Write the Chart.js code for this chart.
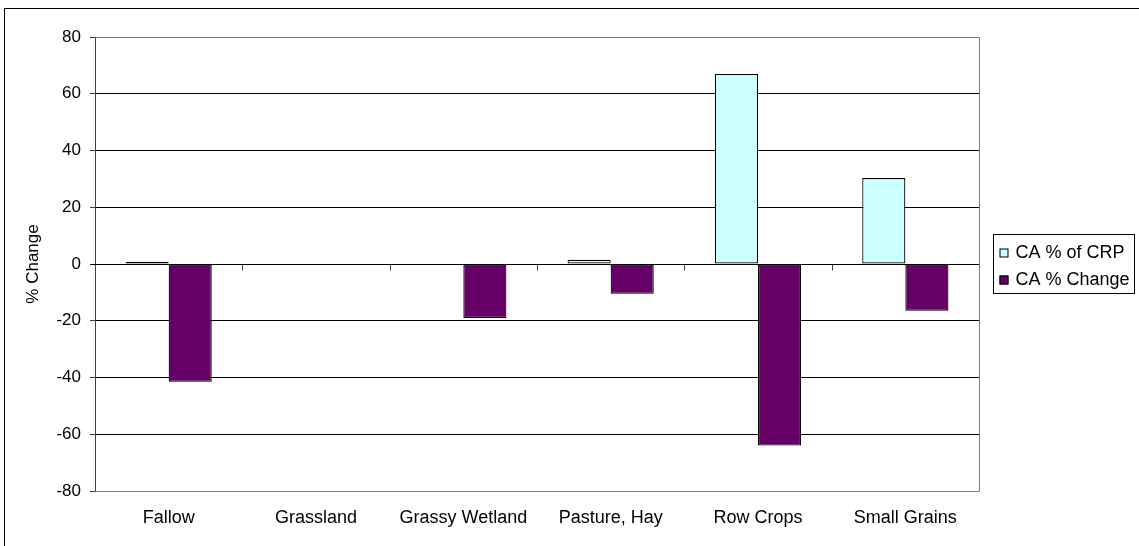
<!DOCTYPE html>
<html>
<head>
<meta charset="utf-8">
<script src="https://cdn.jsdelivr.net/npm/chart.js@4.4.1/dist/chart.umd.min.js"></script>
<style>
  html, body { margin: 0; padding: 0; background: #fff; }
  #wrap { width: 1139px; height: 546px; position: relative; }
</style>
</head>
<body>
<div id="wrap"><canvas id="chart" width="1139" height="546"></canvas></div>
<script>
// data
const categories = ["Fallow", "Grassland", "Grassy Wetland", "Pasture, Hay", "Row Crops", "Small Grains"];
const crpShare = [0.8, 0, 0, 1.5, 67, 30.3];        // CA % of CRP
const pctChange = [-41.5, 0, -19, -10.5, -64, -16.5]; // CA % Change
const seriesNames = ["CA % of CRP", "CA % Change"];
const yTicks = [-80, -60, -40, -20, 0, 20, 40, 60, 80];

const FONT = "'Liberation Sans', Arial, sans-serif";

// outer border, plot frame, zero line, category tick marks and boxed legend
const decorPlugin = {
  id: "decor",
  beforeDraw(chart) {
    const ctx = chart.ctx;
    ctx.save();
    ctx.fillStyle = "#fff";
    ctx.fillRect(0, 0, chart.width, chart.height);
    ctx.strokeStyle = "#000";
    ctx.lineWidth = 1;
    ctx.strokeRect(4.5, 8.5, chart.width, chart.height);
    ctx.restore();
  },
  afterDatasetsDraw(chart) {
    const ctx = chart.ctx;
    const a = chart.chartArea;
    const x = chart.scales.x, y = chart.scales.y;
    const y0 = Math.round(y.getPixelForValue(0)) + 0.5;
    ctx.save();
    // frame
    ctx.strokeStyle = "#808080";
    ctx.lineWidth = 1;
    ctx.beginPath();
    ctx.moveTo(Math.round(a.left) + 0.5, Math.round(a.top) + 0.5);
    ctx.lineTo(Math.round(a.right) + 0.5, Math.round(a.top) + 0.5);
    ctx.lineTo(Math.round(a.right) + 0.5, Math.round(a.bottom) + 0.5);
    ctx.lineTo(Math.round(a.left) + 0.5, Math.round(a.bottom) + 0.5);
    ctx.stroke();
    ctx.strokeStyle = "#404040";
    ctx.beginPath();
    ctx.moveTo(Math.round(a.left) + 0.5, Math.round(a.top) + 0.5);
    ctx.lineTo(Math.round(a.left) + 0.5, Math.round(a.bottom) + 0.5);
    ctx.stroke();
    // category boundary ticks on the zero line
    ctx.beginPath();
    for (let i = 0; i < categories.length - 1; i++) {
      const bx = Math.round((x.getPixelForValue(i) + x.getPixelForValue(i + 1)) / 2) + 0.5;
      ctx.moveTo(bx, y0);
      ctx.lineTo(bx, y0 + 6);
    }
    ctx.stroke();
    // zero line
    ctx.strokeStyle = "#000";
    ctx.beginPath();
    ctx.moveTo(a.left - 5, y0);
    ctx.lineTo(a.right, y0);
    ctx.stroke();

    // legend box
    const lx = Math.round(a.right) + 14.5, ly = 234.5;
    ctx.strokeStyle = "#000";
    ctx.strokeRect(lx, ly, 141, 59);
    ctx.font = "18px " + FONT;
    ctx.textBaseline = "middle";
    chart.data.datasets.forEach((ds, i) => {
      const cy = ly + 18 + i * 27;
      ctx.fillStyle = ds.backgroundColor;
      ctx.fillRect(lx + 6, cy - 4, 9, 9);
      ctx.strokeStyle = "#000";
      ctx.strokeRect(lx + 6.5, cy - 3.5, 8, 8);
      ctx.fillStyle = "#000";
      ctx.fillText(ds.label, lx + 22, cy + 1);
    });
    ctx.restore();
  }
};

new Chart(document.getElementById("chart"), {
  type: "bar",
  data: {
    labels: categories,
    datasets: [
      {
        label: seriesNames[0],
        data: crpShare,
        backgroundColor: "#ccffff",
        borderColor: "#000",
        borderWidth: 1.2,
        borderSkipped: false
      },
      {
        label: seriesNames[1],
        data: pctChange,
        backgroundColor: "#660066",
        borderColor: "#000",
        borderWidth: 1.2,
        borderSkipped: false
      }
    ]
  },
  options: {
    responsive: false,
    animation: false,
    devicePixelRatio: 1,
    layout: { padding: { left: 0, top: 37, right: 160, bottom: 12 } },
    datasets: { bar: { barPercentage: 1, categoryPercentage: 0.585 } },
    plugins: {
      legend: { display: false },
      tooltip: { enabled: false }
    },
    scales: {
      x: {
        grid: { display: false, drawTicks: false },
        border: { display: false },
        ticks: { color: "#000", font: { family: FONT, size: 18 }, padding: 16, maxRotation: 0 },
        afterFit(scale) { scale.height = 43; }
      },
      y: {
        min: -80,
        max: 80,
        afterBuildTicks(scale) { scale.ticks = yTicks.map(v => ({ value: v })); },
        grid: {
          color: ctx => (ctx.tick && Math.abs(ctx.tick.value) === 80 ? "#808080" : "#000"),
          tickLength: 5,
          tickColor: "#404040"
        },
        border: { display: false },
        ticks: { color: "#000", font: { family: FONT, size: 17 }, padding: 9 },
        title: {
          display: true,
          text: "% Change",
          color: "#000",
          font: { family: FONT, size: 17 },
          padding: { top: 23, bottom: 0 }
        },
        afterFit(scale) { scale.width = 95; }
      }
    }
  },
  plugins: [decorPlugin]
});
</script>
</body>
</html>
